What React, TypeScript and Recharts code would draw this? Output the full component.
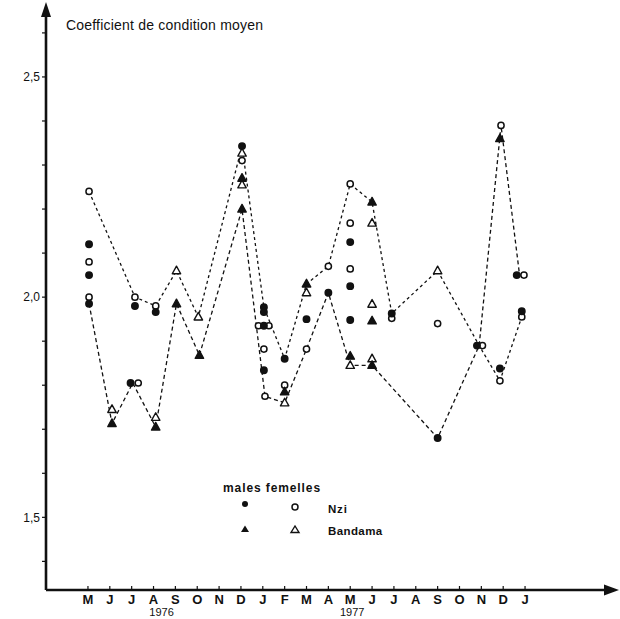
import React from 'react';
import { ComposedChart, Line, Scatter, XAxis, YAxis } from 'recharts';

// month index 0 = May 1976 ... 20 = January 1978
const months = ['M', 'J', 'J', 'A', 'S', 'O', 'N', 'D', 'J', 'F', 'M', 'A', 'M', 'J', 'J', 'A', 'S', 'O', 'N', 'D', 'J'];
const yearLabels = ['1976', '1977'];
const yearMonth = [3, 12];
const yTicks = [1.4, 1.5, 1.6, 1.7, 1.8, 1.9, 2.0, 2.1, 2.2, 2.3, 2.4, 2.5, 2.6];
const yLabelled = [1.5, 2.0, 2.5];

// [month index (sampling date), condition coefficient]
const nziMales = [
  [0.05, 2.12], [0.05, 2.05], [0.05, 1.985],
  [1.95, 1.805], [2.15, 1.98], [3.1, 1.966],
  [7.05, 2.343],
  [8.05, 1.977], [8.05, 1.966], [8.05, 1.935], [8.05, 1.834],
  [9.0, 1.86], [10.0, 1.95], [11.0, 2.01],
  [12.0, 2.125], [12.0, 2.025], [12.0, 1.948],
  [13.9, 1.963], [16.0, 1.68], [17.8, 1.89], [18.85, 1.838],
  [19.62, 2.05], [19.85, 1.968],
];
const nziFemales = [
  [0.05, 2.24], [0.05, 2.08], [0.05, 2.0],
  [2.15, 2.0], [2.3, 1.805], [3.1, 1.98],
  [7.05, 2.31],
  [7.8, 1.935], [8.28, 1.935], [8.05, 1.882], [8.1, 1.775],
  [9.0, 1.8], [10.0, 1.882], [11.0, 2.07],
  [12.0, 2.257], [12.0, 2.168], [12.0, 2.064],
  [13.9, 1.952], [16.0, 1.94], [18.05, 1.89],
  [18.85, 1.81], [18.9, 2.39],
  [19.95, 2.05], [19.85, 1.955],
];
const bandamaMales = [
  [1.1, 1.713], [3.1, 1.705], [4.05, 1.985], [5.1, 1.868],
  [7.05, 2.27], [7.05, 2.2],
  [9.0, 1.785], [10.0, 2.03], [12.0, 1.866],
  [13.0, 2.216], [13.0, 1.946], [13.0, 1.845],
  [18.85, 2.36],
];
const bandamaFemales = [
  [1.1, 1.745], [3.1, 1.727], [4.05, 2.06], [5.05, 1.955],
  [7.05, 2.327], [7.05, 2.255],
  [9.0, 1.76], [10.0, 2.01], [12.0, 1.845],
  [13.0, 2.168], [13.0, 1.984], [13.0, 1.86],
  [16.0, 2.06],
];

// the two dashed curves as drawn
const upperCurve = [
  [0.05, 2.24], [2.15, 2.0], [3.1, 1.98], [4.05, 2.06], [5.05, 1.955],
  [7.05, 2.343], [8.05, 1.977], [9.0, 1.86], [10.0, 2.03], [11.0, 2.07],
  [12.0, 2.257], [13.0, 2.216], [13.9, 1.963], [16.0, 2.06], [17.9, 1.89],
  [18.85, 1.81], [19.85, 1.955],
];
const lowerCurve = [
  [0.05, 1.985], [1.1, 1.713], [2.05, 1.805], [3.1, 1.705], [4.05, 1.985],
  [5.1, 1.868], [7.05, 2.2], [8.1, 1.775], [9.0, 1.76], [10.0, 1.882],
  [11.0, 2.01], [12.0, 1.845], [13.0, 1.845], [16.0, 1.68], [17.9, 1.89],
  [18.9, 2.39], [19.75, 2.05],
];

const toPts = (arr: number[][]) => arr.map(([x, y]) => ({ x, y }));

const INK = '#111';
const FONT = '"Liberation Sans", Arial, sans-serif';

const circle = (filled: boolean) => (p: any) => (
  <circle cx={p.cx} cy={p.cy} r={filled ? 3.2 : 3.1} fill={filled ? INK : '#fff'} stroke={INK} strokeWidth={1.5} />
);
const triangle = (filled: boolean) => (p: any) => (
  <polygon
    points={`${p.cx},${p.cy - 4.6} ${p.cx - 4.2},${p.cy + 3} ${p.cx + 4.2},${p.cy + 3}`}
    fill={filled ? INK : '#fff'}
    stroke={INK}
    strokeWidth={1.4}
    strokeLinejoin="round"
  />
);

function MonthTick(props: any) {
  const { x, y, payload } = props;
  const i = payload.value as number;
  const yi = yearMonth.indexOf(i);
  return (
    <g>
      <line x1={x} x2={x} y1={y - 4} y2={y} stroke={INK} strokeWidth={1.2} />
      <text x={x} y={y + 14} textAnchor="middle" fontFamily={FONT} fontWeight="bold" fontSize={13} fill={INK}>
        {months[i]}
      </text>
      {yi >= 0 && (
        <text x={x + (yi === 0 ? 8 : 2)} y={y + 26} textAnchor="middle" fontFamily={FONT} fontSize={11} fill={INK}>
          {yearLabels[yi]}
        </text>
      )}
    </g>
  );
}

export default function App() {
  return (
    <div style={{ position: 'fixed', left: 0, top: 0, width: 620, height: 619, background: '#fff' }}>
      <ComposedChart width={620} height={619} margin={{ top: 10, right: 6, bottom: 0, left: 6 }}>
        <XAxis
          type="number"
          dataKey="x"
          domain={[-1.92, 24.07]}
          allowDataOverflow
          ticks={months.map((_, i) => i)}
          interval={0}
          tickSize={0}
          tickMargin={0}
          tickLine={false}
          height={29}
          axisLine={{ stroke: INK, strokeWidth: 2.6 }}
          tick={<MonthTick />}
        />
        <YAxis
          type="number"
          dataKey="y"
          domain={[1.335, 2.652]}
          allowDataOverflow
          ticks={yTicks}
          interval={0}
          width={40}
          tickSize={4}
          tickMargin={2}
          axisLine={{ stroke: INK, strokeWidth: 2.6 }}
          tickLine={{ stroke: INK, strokeWidth: 1.2 }}
          tick={{ fill: INK, fontSize: 12, fontFamily: FONT }}
          tickFormatter={(v: number) =>
            yLabelled.some((l) => Math.abs(l - v) < 1e-6) ? v.toFixed(1).replace('.', ',') : ''
          }
        />
        <Line
          data={toPts(upperCurve)}
          dataKey="y"
          type="linear"
          stroke={INK}
          strokeWidth={1.3}
          strokeDasharray="3 3"
          dot={false}
          activeDot={false}
          isAnimationActive={false}
        />
        <Line
          data={toPts(lowerCurve)}
          dataKey="y"
          type="linear"
          stroke={INK}
          strokeWidth={1.3}
          strokeDasharray="4 3"
          dot={false}
          activeDot={false}
          isAnimationActive={false}
        />
        <Scatter data={toPts(nziFemales)} dataKey="y" shape={circle(false)} isAnimationActive={false} />
        <Scatter data={toPts(bandamaFemales)} dataKey="y" shape={triangle(false)} isAnimationActive={false} />
        <Scatter data={toPts(nziMales)} dataKey="y" shape={circle(true)} isAnimationActive={false} />
        <Scatter data={toPts(bandamaMales)} dataKey="y" shape={triangle(true)} isAnimationActive={false} />
      </ComposedChart>
      <svg
        width={620}
        height={619}
        style={{ position: 'absolute', left: 0, top: 0, pointerEvents: 'none' }}
      >
        <polygon points="46,2 41,17 51,17" fill={INK} />
        <polygon points="619,590 604,584.5 604,595.5" fill={INK} />
        <text x={66} y={30} fontFamily={FONT} fontSize={14} letterSpacing={0.2} fill={INK}>
          Coefficient  de condition moyen
        </text>
        <text x={223} y={492} fontFamily={FONT} fontWeight="bold" fontSize={12} letterSpacing={0.9} fill={INK}>
          males femelles
        </text>
        <circle cx={245} cy={504} r={3} fill={INK} />
        <circle cx={295} cy={507} r={3} fill="#fff" stroke={INK} strokeWidth={1.5} />
        <text x={328} y={513} fontFamily={FONT} fontWeight="bold" fontSize={11.5} letterSpacing={0.8} fill={INK}>
          Nzi
        </text>
        <polygon points="245,525.5 241,532 249,532" fill={INK} />
        <polygon points="295,526 291,532.5 299,532.5" fill="#fff" stroke={INK} strokeWidth={1.4} />
        <text x={328} y={535} fontFamily={FONT} fontWeight="bold" fontSize={11.5} letterSpacing={0.4} fill={INK}>
          Bandama
        </text>
      </svg>
    </div>
  );
}
